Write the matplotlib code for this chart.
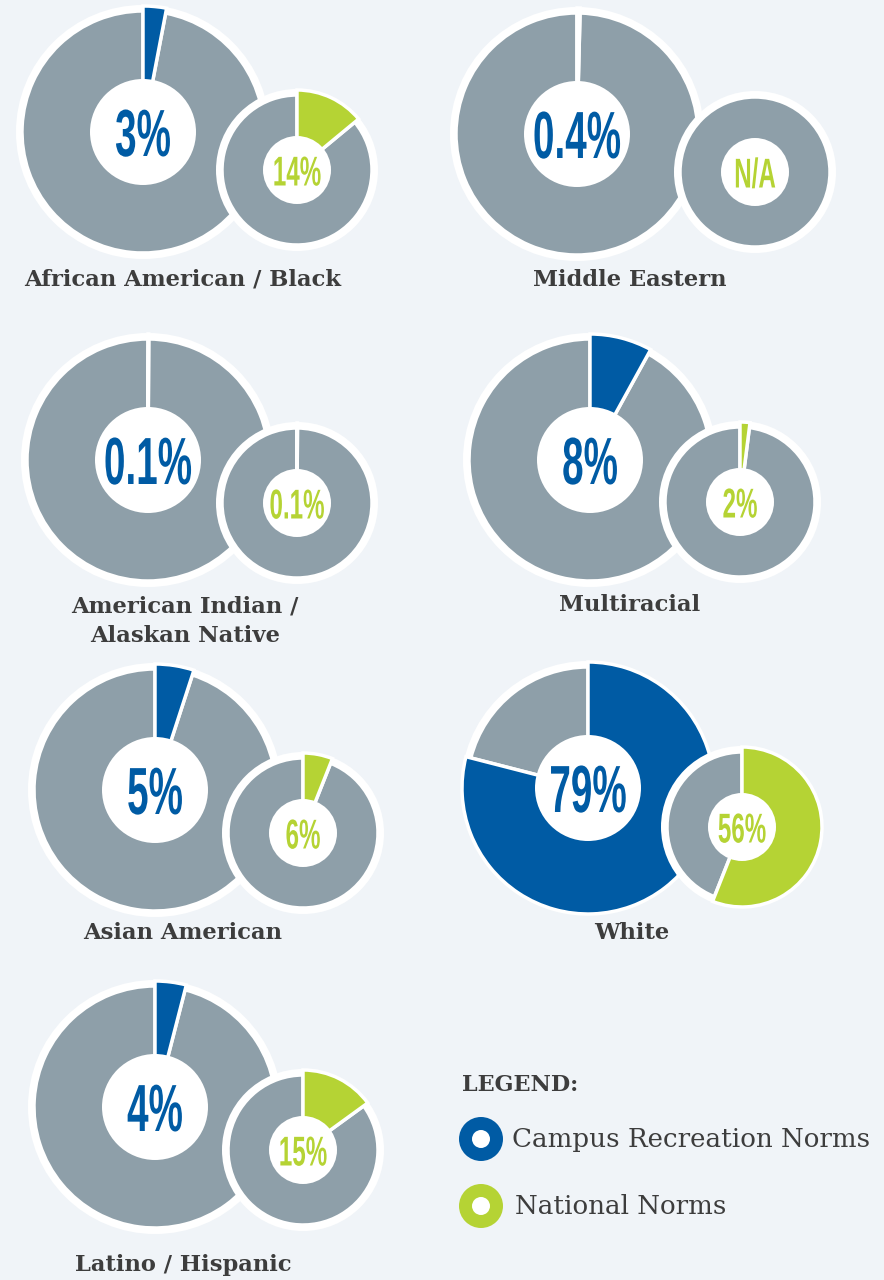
import matplotlib
matplotlib.use("Agg")
import matplotlib.pyplot as plt
from matplotlib.patches import Circle
from matplotlib.patheffects import AbstractPathEffect
from matplotlib.transforms import Affine2D

W, H = 884, 1280
BG = "#f0f4f8"
GRAY = "#8e9fa9"
BLUE = "#005ba4"
GREEN = "#b5d334"
DARK = "#3d3d3d"

categories = ["African American / Black", "Middle Eastern", "American Indian /\nAlaskan Native",
              "Multiracial", "Asian American", "White", "Latino / Hispanic"]
campus = [3, 0.4, 0.1, 8, 5, 79, 4]
national = [14, None, 0.1, 2, 6, 56, 15]
campus_labels = ["3%", "0.4%", "0.1%", "8%", "5%", "79%", "4%"]
national_labels = ["14%", "N/A", "0.1%", "2%", "6%", "56%", "15%"]

# layout (pixel coordinates, y from top)
big_c = [(143, 132), (577, 134), (148, 460), (590, 460), (155, 790), (588, 788), (155, 1107)]
small_c = [(297, 170), (755, 172), (297, 503), (740, 502), (303, 833), (742, 827), (303, 1150)]
label_pos = [(183, 280), (630, 280), (185, 621), (630, 605), (183, 933), (632, 933), (183, 1265)]

R_BIG, RI_BIG = 121, 53
R_SM, RI_SM = 75, 34


class Condense(AbstractPathEffect):
    """Squeeze a text horizontally around its anchor (keeps it a real Text artist)."""

    def __init__(self, sx):
        super().__init__()
        self.sx = sx
        self.text = None

    def draw_path(self, renderer, gc, tpath, affine, rgbFace=None):
        x0 = self.text.get_transform().transform(self.text.get_position())[0]
        t = affine + Affine2D().translate(-x0, 0).scale(self.sx, 1).translate(x0, 0)
        renderer.draw_path(gc, tpath, t, rgbFace)


def condensed_text(x, y, s, sx, **kw):
    eff = Condense(sx)
    t = ax.text(x, y, s, path_effects=[eff], **kw)
    eff.text = t
    return t


fig = plt.figure(figsize=(W / 100, H / 100), dpi=100)
fig.patch.set_facecolor(BG)
ax = fig.add_axes([0, 0, 1, 1])
ax.set_facecolor(BG)

NUM_FONT = ["Liberation Sans", "DejaVu Sans"]
LBL_FONT = ["DejaVu Serif"]


def donut(cx, cy, r, ri, val, color, label, fs, z):
    y = H - cy
    ax.add_patch(Circle((cx, y), r + 6, facecolor="white", edgecolor="none", zorder=z))
    if val is None:
        vals, cols = [1], [GRAY]
    else:
        vals, cols = [val, 100 - val], [color, GRAY]
    wedges, _ = ax.pie(vals, colors=cols, startangle=90, counterclock=False,
                       center=(cx, y), radius=r,
                       wedgeprops=dict(edgecolor="white", linewidth=2.5))
    for w in wedges:
        w.set_zorder(z + 1)
    if val is not None:
        wedges[0].set_radius(r + 5)
        wedges[0].set_zorder(z + 1.5)
    ax.add_patch(Circle((cx, y), ri, facecolor="white", edgecolor="none", zorder=z + 2))
    condensed_text(cx, y, label, 0.58, ha="center", va="center_baseline", color=color,
                   fontsize=fs, fontweight="bold", family=NUM_FONT, zorder=z + 3)


for i in range(len(categories)):
    bx, by = big_c[i]
    sx, sy = small_c[i]
    donut(bx, by, R_BIG, RI_BIG, campus[i], BLUE, campus_labels[i], 48, 1)
    donut(sx, sy, R_SM, RI_SM, national[i], GREEN, national_labels[i], 30, 10)
    lx, ly = label_pos[i]
    ax.text(lx, H - ly, categories[i], ha="center", va="center", color=DARK,
            fontsize=16.3, fontweight="bold", family=LBL_FONT, linespacing=1.45)

# legend
ax.text(462, H - 1085, "LEGEND:", ha="left", va="center", color=DARK, fontsize=16,
        fontweight="bold", family=LBL_FONT)
for (yy, col, txt, tx) in [(1139, BLUE, "Campus Recreation Norms", 512),
                           (1206, GREEN, "National Norms", 515)]:
    ax.add_patch(Circle((481, H - yy), 22, facecolor=col, edgecolor="none"))
    ax.add_patch(Circle((481, H - yy), 9, facecolor="white", edgecolor="none"))
    ax.text(tx, H - yy, txt, ha="left", va="center", color=DARK, fontsize=18.8,
            family=LBL_FONT)

ax.set_xlim(0, W)
ax.set_ylim(0, H)
ax.set_aspect("equal")
ax.axis("off")
fig.savefig("out.png", dpi=100, facecolor=BG)
